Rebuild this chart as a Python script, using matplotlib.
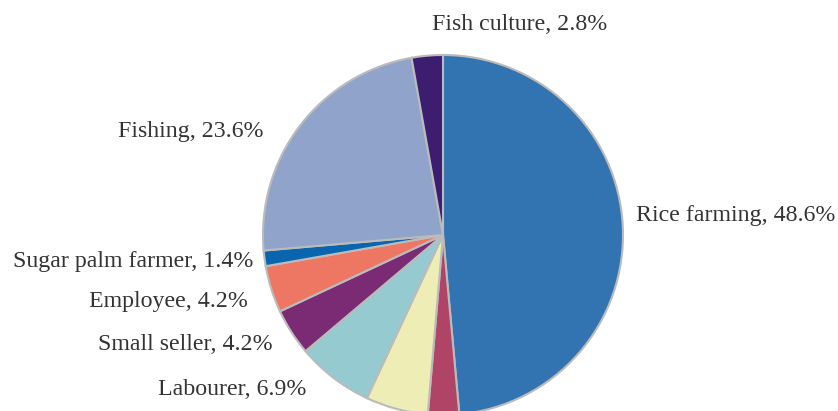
import matplotlib.pyplot as plt

## occupation shares, clockwise from 12 o'clock
labels = ['Rice farming', 'Other A', 'Other B', 'Labourer', 'Small seller',
          'Employee', 'Sugar palm farmer', 'Fishing', 'Fish culture']
shares = [48.6, 2.8, 5.6, 6.9, 4.2, 4.2, 1.4, 23.6, 2.8]
colors = ['#3274b2', '#b04467', '#eeedb6', '#95cbd0', '#7b2a74',
          '#ee7763', '#0966ae', '#8fa3cb', '#3d1d6f']

W, H = 838, 411
fig = plt.figure(figsize=(W / 100, H / 100), dpi=100)
ax = fig.add_axes([0, 0, 1, 1])

cx, cy, r = 443, H - 235, 180
ax.pie(shares, colors=colors, startangle=90, counterclock=False,
       center=(cx, cy), radius=r, frame=True,
       wedgeprops=dict(edgecolor='#bbbbbb', linewidth=1.5))

ax.set_xlim(0, W)
ax.set_ylim(0, H)
ax.set_aspect('equal')
ax.axis('off')

## label placement (pixel coords, top-left origin) as in the source figure
label_pos = {
    'Fish culture': (520, 25, 'center'),
    'Fishing': (263, 132, 'right'),
    'Rice farming': (636, 216, 'left'),
    'Sugar palm farmer': (253, 261, 'right'),
    'Employee': (248, 301, 'right'),
    'Small seller': (273, 344, 'right'),
    'Labourer': (306, 389, 'right'),
}
for name, val in zip(labels, shares):
    if name not in label_pos:
        continue
    x, y, ha = label_pos[name]
    ax.text(x, H - y, f'{name}, {val}%', ha=ha, va='center',
            fontsize=17.2, family='Liberation Serif', color='#333333')

fig.savefig('out.png', dpi=100)
